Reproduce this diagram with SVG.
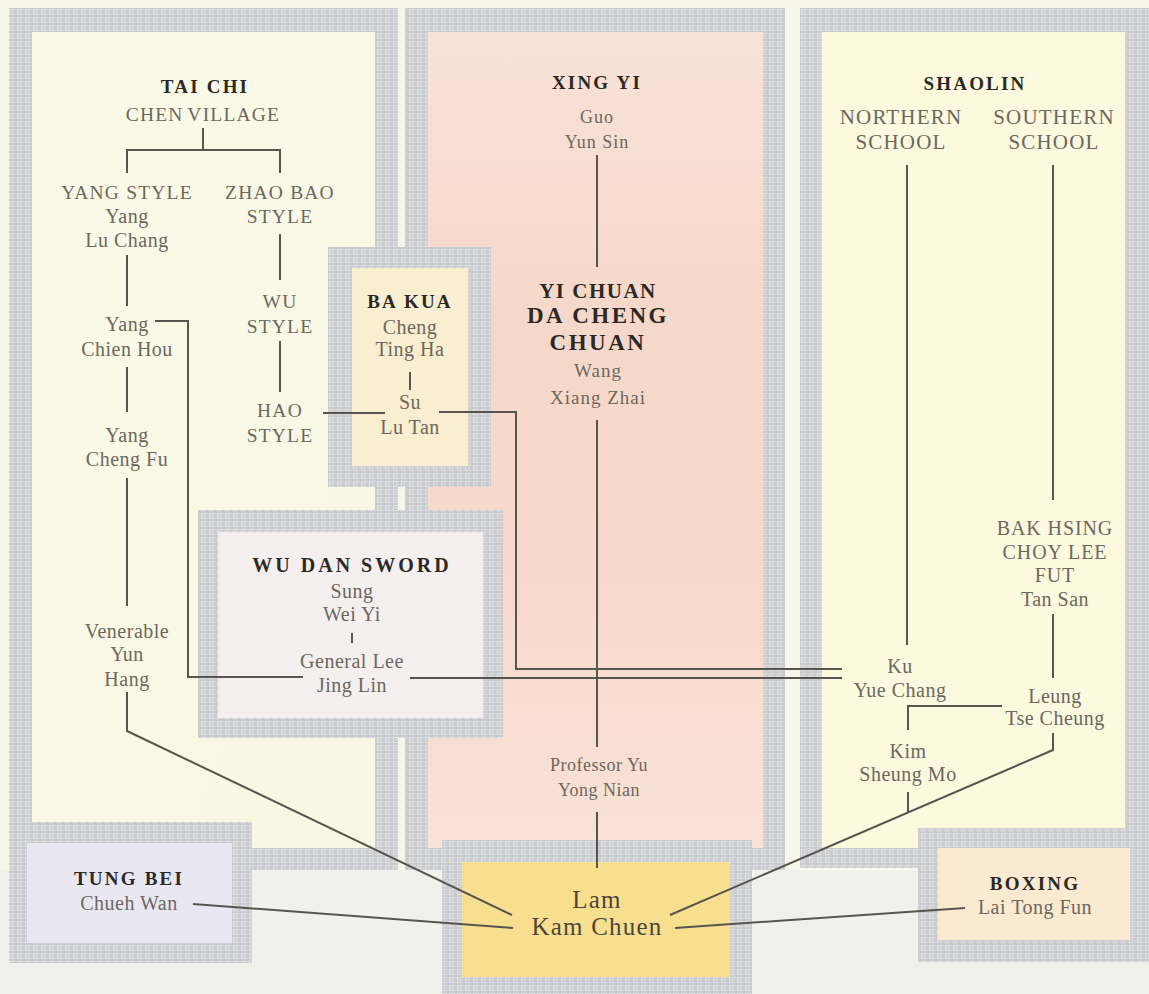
<svg xmlns="http://www.w3.org/2000/svg" width="1149" height="994" viewBox="0 0 1149 994">
<defs>
<pattern id="meander" width="8" height="8" patternUnits="userSpaceOnUse">
<rect width="8" height="8" fill="#cbcccf"/>
<path d="M1 1.5h6M1.5 1v6M1 6.5h4v-3h-2" stroke="#e0e1e3" stroke-width="1" fill="none"/>
</pattern>
<linearGradient id="pink" x1="0" y1="0" x2="0" y2="1">
<stop offset="0" stop-color="#f8e2d8"/>
<stop offset="0.35" stop-color="#f6d8ca"/>
<stop offset="0.7" stop-color="#f7dacd"/>
<stop offset="1" stop-color="#f9e2d7"/>
</linearGradient>
<linearGradient id="cream" x1="0" y1="0" x2="1" y2="1">
<stop offset="0" stop-color="#fbfae8"/>
<stop offset="1" stop-color="#f8f7e4"/>
</linearGradient>
<style>
.b{fill:url(#meander)}
.t{font-family:"Liberation Serif","Times New Roman",serif;text-anchor:middle}
.h{font-weight:bold;fill:#2b2926;font-size:19px;letter-spacing:2.2px}
.n{fill:#6d685d;font-size:20px;letter-spacing:0.5px}
.c{fill:#6d685d;font-size:19.5px;letter-spacing:1.2px}
.s{fill:#6d685d;font-size:21px;letter-spacing:1.2px}
.k{fill:none;stroke:#57554e;stroke-width:2}
</style>
</defs>
<rect width="1149" height="994" fill="#f6f6ea"/>
<rect x="0" y="870" width="1149" height="124" fill="#f0f0ec"/>

<g id="panel-taichi">
<rect class="b" x="9" y="8" width="389" height="862"/>
<rect x="32" y="32" width="343" height="816" fill="url(#cream)"/>
</g>
<g id="panel-xingyi">
<rect class="b" x="405" y="8" width="380" height="862"/>
<rect x="428" y="32" width="335" height="816" fill="url(#pink)"/>
</g>
<g id="panel-shaolin">
<rect class="b" x="800" y="8" width="349" height="860"/>
<rect x="822" y="32" width="303" height="816" fill="#fcf9df"/>
</g>
<g id="box-bakua">
<rect class="b" x="328" y="247" width="163" height="240"/>
<rect x="352" y="268" width="116" height="198" fill="#f9efd0"/>
</g>
<g id="box-wudan">
<rect class="b" x="198" y="510" width="305" height="228"/>
<rect x="218" y="532" width="265" height="186" fill="#f6eff0"/>
</g>
<g id="box-tungbei">
<rect class="b" x="9" y="822" width="243" height="141"/>
<rect x="27" y="843" width="205" height="100" fill="#e9e7f2"/>
</g>
<g id="box-lam">
<rect class="b" x="442" y="840" width="310" height="154"/>
<rect x="462" y="862" width="268" height="115" fill="#f8df8f"/>
</g>
<g id="box-boxing">
<rect class="b" x="918" y="828" width="231" height="134"/>
<rect x="938" y="848" width="192" height="92" fill="#fbead2"/>
</g>

<g id="connectors" class="k">
<path d="M203 128V150M127 173V150H280V173"/>
<path d="M280 234V280"/>
<path d="M127 255V306"/>
<path d="M280 341V392"/>
<path d="M127 367V412"/>
<path d="M127 478V606"/>
<path d="M127 692V731L512 915"/>
<path d="M155 321H188V677H303"/>
<path d="M410 678H842"/>
<path d="M323 413H385"/>
<path d="M439 412H516V669H842"/>
<path d="M410 372V390"/>
<path d="M352 633V643"/>
<path d="M597 155V267M597 420V747M597 812V868"/>
<path d="M193 904L513 928"/>
<path d="M675 928L965 908"/>
<path d="M907 165V645M1053 165V500M1053 614V678"/>
<path d="M1002 706H908V730"/>
<path d="M908 792V812"/>
<path d="M1053 733V750L670 915"/>
</g>

<g id="node-taichi" class="t">
<text class="h" x="205" y="93">TAI CHI</text>
<text class="c" x="203" y="121" style="word-spacing:-2px">CHEN VILLAGE</text>
</g>
<g id="node-yangstyle" class="t">
<text class="c" x="127" y="199">YANG STYLE</text>
<text class="n" x="127" y="223">Yang</text>
<text class="n" x="127" y="247">Lu Chang</text>
</g>
<g id="node-zhaobao" class="t">
<text class="c" x="280" y="199">ZHAO BAO</text>
<text class="c" x="280" y="223">STYLE</text>
</g>
<g id="node-wustyle" class="t">
<text class="c" x="280" y="308">WU</text>
<text class="c" x="280" y="333">STYLE</text>
</g>
<g id="node-haostyle" class="t">
<text class="c" x="280" y="417">HAO</text>
<text class="c" x="280" y="442">STYLE</text>
</g>
<g id="node-chienhou" class="t">
<text class="n" x="127" y="331">Yang</text>
<text class="n" x="127" y="356">Chien Hou</text>
</g>
<g id="node-chengfu" class="t">
<text class="n" x="127" y="442">Yang</text>
<text class="n" x="127" y="466">Cheng Fu</text>
</g>
<g id="node-venerable" class="t">
<text class="n" x="127" y="638">Venerable</text>
<text class="n" x="127" y="661">Yun</text>
<text class="n" x="127" y="686">Hang</text>
</g>
<g id="node-bakua" class="t">
<text class="h" x="410" y="308">BA KUA</text>
<text class="n" x="410" y="334">Cheng</text>
<text class="n" x="410" y="356">Ting Ha</text>
<text class="n" x="410" y="409">Su</text>
<text class="n" x="410" y="434">Lu Tan</text>
</g>
<g id="node-wudan" class="t">
<text class="h" x="352" y="572" style="font-size:20px;letter-spacing:3px">WU DAN SWORD</text>
<text class="n" x="352" y="598">Sung</text>
<text class="n" x="352" y="621">Wei Yi</text>
<text class="n" x="352" y="668">General Lee</text>
<text class="n" x="352" y="692">Jing Lin</text>
</g>
<g id="node-xingyi" class="t">
<text class="h" x="597" y="89">XING YI</text>
<text class="n" x="597" y="123" style="font-size:18px;letter-spacing:1px">Guo</text>
<text class="n" x="597" y="148" style="font-size:18px;letter-spacing:1px">Yun Sin</text>
</g>
<g id="node-yichuan" class="t">
<text class="h" x="598" y="298" style="font-size:21px;letter-spacing:1.5px">YI CHUAN</text>
<text class="h" x="598" y="323" style="font-size:23px;letter-spacing:2.5px">DA CHENG</text>
<text class="h" x="598" y="350" style="font-size:23px;letter-spacing:2.5px">CHUAN</text>
<text class="n" x="598" y="377" style="font-size:19px;letter-spacing:1px">Wang</text>
<text class="n" x="598" y="404" style="font-size:19px;letter-spacing:1px">Xiang Zhai</text>
</g>
<g id="node-professor" class="t">
<text class="n" x="599" y="771" style="font-size:18px">Professor Yu</text>
<text class="n" x="599" y="796" style="font-size:18px">Yong Nian</text>
</g>
<g id="node-lam" class="t">
<text class="n" x="597" y="908" style="font-size:25px;letter-spacing:1.2px;fill:#4b4637">Lam</text>
<text class="n" x="597" y="935" style="font-size:25px;letter-spacing:1.2px;fill:#4b4637">Kam Chuen</text>
</g>
<g id="node-tungbei" class="t">
<text class="h" x="129" y="885">TUNG BEI</text>
<text class="n" x="129" y="910">Chueh Wan</text>
</g>
<g id="node-shaolin" class="t">
<text class="h" x="975" y="90">SHAOLIN</text>
</g>
<g id="node-northern" class="t">
<text class="s" x="901" y="124">NORTHERN</text>
<text class="s" x="901" y="149">SCHOOL</text>
</g>
<g id="node-southern" class="t">
<text class="s" x="1054" y="124">SOUTHERN</text>
<text class="s" x="1054" y="149">SCHOOL</text>
</g>
<g id="node-bakhsing" class="t">
<text class="c" x="1055" y="535" style="font-size:20px;letter-spacing:0.9px">BAK HSING</text>
<text class="c" x="1055" y="559" style="font-size:20px;letter-spacing:0.9px">CHOY LEE</text>
<text class="c" x="1055" y="582" style="font-size:20px;letter-spacing:0.9px">FUT</text>
<text class="n" x="1055" y="606">Tan San</text>
</g>
<g id="node-ku" class="t">
<text class="n" x="900" y="673">Ku</text>
<text class="n" x="900" y="697">Yue Chang</text>
</g>
<g id="node-leung" class="t">
<text class="n" x="1055" y="703">Leung</text>
<text class="n" x="1055" y="725">Tse Cheung</text>
</g>
<g id="node-kim" class="t">
<text class="n" x="908" y="758">Kim</text>
<text class="n" x="908" y="781">Sheung Mo</text>
</g>
<g id="node-boxing" class="t">
<text class="h" x="1035" y="890">BOXING</text>
<text class="n" x="1035" y="914">Lai Tong Fun</text>
</g>
</svg>
